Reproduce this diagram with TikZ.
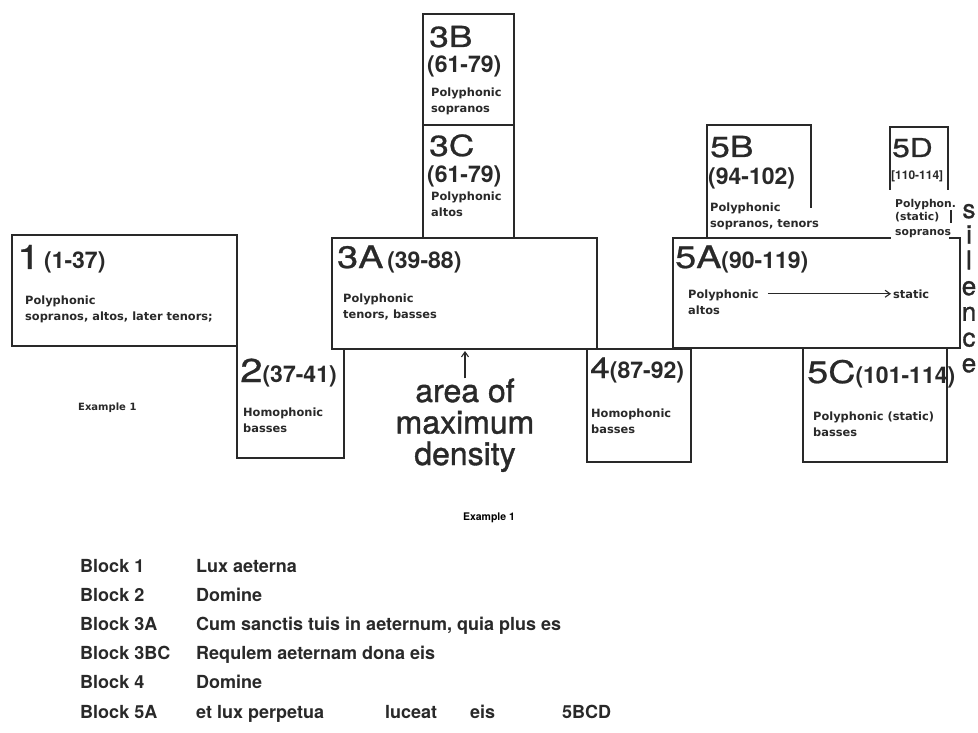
\documentclass[tikz,border=0pt]{standalone}
\usepackage{fontspec}
\setmainfont{TeX Gyre Heros}
\newfontfamily\titlefont[FakeStretch=1.22, FakeBold=0.8]{TeX Gyre Heros}
\newfontfamily\silfont[FakeBold=1.2]{TeX Gyre Heros}
\newfontfamily\boxfont{DejaVu Sans}
\usetikzlibrary{arrows.meta}

\definecolor{ink}{gray}{0.16}

% big block number plus bar numbers
\newcommand{\blocktitle}[3][31]{{\titlefont\fontsize{#1}{#1}\selectfont #2}{\bfseries\fontsize{23}{23}\selectfont #3}}

\tikzset{
  outline/.style={line width=1.5pt, draw=ink, line cap=rect},
  title/.style={anchor=base west, inner sep=0pt, text=ink},
  bars/.style={anchor=base west, inner sep=0pt, text=ink, font=\bfseries\fontsize{23}{23}\selectfont},
  voices/.style={anchor=base west, inner sep=0pt, align=left, text=ink,
    font=\boxfont\bfseries\fontsize{11.4}{16}\selectfont},
  listtext/.style={anchor=base west, inner sep=0pt, text=ink,
    font=\bfseries\fontsize{18}{18}\selectfont}
}

\begin{document}
\begin{tikzpicture}[x=1pt, y=-1pt, >={Straight Barb[length=5pt,width=7pt]}]
\useasboundingbox[fill=white] (0,0) rectangle (978,733);

% Block 1
\draw[outline] (12,235) rectangle (237,346);
\node[title] (t1) at (17,269) {\blocktitle[34]{1}{\,(1-37)}};
\node[voices] (v1) at (25,320) {Polyphonic\\sopranos, altos, later tenors;};
\node[voices, font=\boxfont\bfseries\fontsize{10}{10}\selectfont] (ex) at (78,410) {Example 1};

% Block 2
\draw[outline] (237,346) -- (237,458) -- (344,458) -- (344,349);
\node[title] (t2) at (240,382) {\blocktitle[33]{2}{(37-41)}};
\node[voices] (v2) at (243,432) {Homophonic\\basses};

% Block 3A
\draw[outline] (332,238) rectangle (597,349);
\node[title] (t3a) at (337,268) {\blocktitle{3A}{\,(39-88)}};
\node[voices] (v3a) at (343,318) {Polyphonic\\tenors, basses};

% Block 3B / 3C
\draw[outline] (423,238) -- (423,14) -- (514,14) -- (514,238);
\draw[outline] (423,125) -- (514,125);
\node[title, font=\titlefont\fontsize{29}{29}\selectfont] (t3b) at (429,47) {3B};
\node[bars] (b3b) at (427,73) {(61-79)};
\node[voices] (v3b) at (431,113) {Polyphonic\\sopranos};
\node[title, font=\titlefont\fontsize{29}{29}\selectfont] (t3c) at (429,156) {3C};
\node[bars] (b3c) at (427,183) {(61-79)};
\node[voices] (v3c) at (431,216) {Polyphonic\\altos};

% area of maximum density
\node[anchor=base, inner sep=0pt, align=center, text=ink,
  font=\silfont\fontsize{32}{31.5}\selectfont] (dens) at (465,465) {area of\\maximum\\density};
\coordinate (c3a) at (465,351);
\draw[->, line width=1.1pt, draw=ink] (dens.north) -- (c3a);

% Block 4
\draw[outline] (587,349) -- (587,462) -- (691,462) -- (691,349) -- (597,349);
\node[title] (t4) at (590,378) {\blocktitle[29]{4}{(87-92)}};
\node[voices] (v4) at (591,433) {Homophonic\\basses};

% Block 5A
\draw[outline] (890,238) -- (673,238) -- (673,348) -- (960,348) -- (960,238) -- (950,238);
\node[title] (t5a) at (675,268) {\blocktitle{5A}{(90-119)}};
\node[voices] (v5a) at (688,314) {Polyphonic\\altos};
\node[voices] (st5a) at (893,298) {static};
\coordinate (a5) at (v5a.east |- st5a.west);
\draw[->, line width=1.1pt, draw=ink] ([xshift=9pt]a5) -- ([xshift=-2pt]st5a.west);

% Block 5B
\draw[outline] (707,238) -- (707,125) -- (811,125) -- (811,207);
\node[title, font=\titlefont\fontsize{29}{29}\selectfont] (t5b) at (710,157) {5B};
\node[bars] (b5b) at (708,185) {(94-102)};
\node[voices] (v5b) at (710,227) {Polyphonic\\sopranos, tenors};

% Block 5C
\draw[outline] (803,348) -- (803,462) -- (947,462) -- (947,348);
\node[title] (t5c) at (807,383) {\blocktitle{5C}{(101-114)}};
\node[voices] (v5c) at (813,436) {Polyphonic (static)\\basses};

% Block 5D
\draw[outline] (890,189) -- (890,127) -- (948,127) -- (948,189);
\node[title, font=\titlefont\fontsize{26}{26}\selectfont] (t5d) at (892,157) {5D};
\node[bars, font=\bfseries\fontsize{12}{12}\selectfont] (b5d) at (891,180) {[110-114]};
\node[voices, font=\boxfont\bfseries\fontsize{10.8}{14}\selectfont] (v5d) at (895,235) {Polyphon.\\(static)\\sopranos};
\draw[line width=1.2pt, draw=ink] (951,210) -- (951,223);

% silence
\foreach \ch [count=\i] in {s,i,l,e,n,c,e}
  \node[anchor=base, inner sep=0pt, text=ink, font=\silfont\fontsize{26}{26}\selectfont] (sil\i) at (969,{218+25.7*(\i-1)}) {\ch};

% caption
\node[anchor=base, inner sep=0pt, font=\bfseries\fontsize{10.5}{10.5}\selectfont] (cap) at (489,520) {Example 1};

% text of the blocks
\foreach \blk/\words [count=\r] in {1/Lux aeterna, 2/Domine, 3A/{Cum sanctis tuis in aeternum, quia plus es}, 3BC/Requlem aeternam dona eis, 4/Domine} {
  \node[listtext] (blk\r) at (80,{572+29.2*(\r-1)}) {Block \blk};
  \node[listtext] (words\r) at (196,{572+29.2*(\r-1)}) {\words};
}
\node[listtext] (blk6) at (80,718) {Block 5A};
\node[listtext] (words6) at (196,718) {et lux perpetua};
\node[listtext] (luc) at (385,718) {luceat};
\node[listtext] (eis) at (470,718) {eis};
\node[listtext] (bcd) at (562,718) {5BCD};
\end{tikzpicture}
\end{document}
